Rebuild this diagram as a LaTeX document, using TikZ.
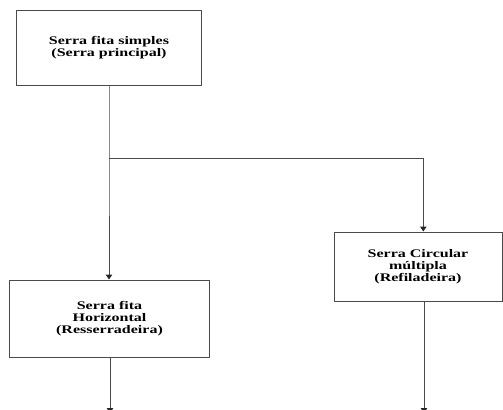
\documentclass[tikz,border=0pt]{standalone}
\usepackage{fontspec}
\newfontfamily\boxfont{Liberation Serif}[FakeStretch=1.38]
\usetikzlibrary{arrows.meta}
\tikzset{
  box/.style={draw=linegray, line width=1bp, inner sep=0pt, align=center,
    font=\boxfont\bfseries\fontsize{11.6bp}{12.2bp}\selectfont, text=black},
  conn/.style={draw=linegray, line width=1bp},
  arr/.style={conn, -{Triangle[width=6.5bp,length=5bp,color=black!85]}}
}
\definecolor{linegray}{HTML}{4A4A4A}
\begin{document}
\begin{tikzpicture}[x=1bp,y=-1bp]
\useasboundingbox (0,0) rectangle (503,409);
\clip (0,0) rectangle (503,409);
\node[box, minimum width=184bp, minimum height=75bp] (b1) at (109,47.5)
  {Serra fita simples\\(Serra principal)};
\node[box, minimum width=199bp, minimum height=77bp] (b2) at (109.5,318.5)
  {Serra fita\\Horizontal\\(Resserradeira)};
\node[box, minimum width=168bp, minimum height=69bp] (b3) at (418,266.5)
  {Serra Circular\\múltipla\\(Refiladeira)};
\coordinate (j) at (109,158.3);
\coordinate (k) at (423.3,158.3);
\coordinate (e2) at (110,413);
\coordinate (e3) at (424,413);
\draw[arr] (b1.south -| j) -- (j) -- (j |- b2.north);
\draw[arr] (j) -- (k) -- (k |- b3.north);
\draw[arr] (b2.south -| e2) -- (e2);
\draw[arr] (b3.south -| e3) -- (e3);
\end{tikzpicture}
\end{document}
